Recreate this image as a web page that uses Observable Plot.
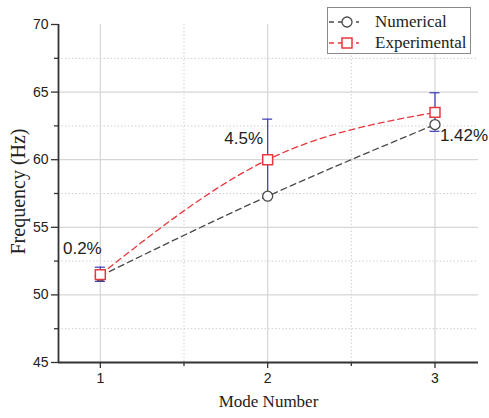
<!DOCTYPE html>
<html>
<head>
<meta charset="utf-8">
<script src="https://cdn.jsdelivr.net/npm/d3@7"></script>
<script src="https://cdn.jsdelivr.net/npm/@observablehq/plot@0.6"></script>
<style>
  html, body { margin: 0; padding: 0; background: #fff; }
  #wrap { position: relative; width: 489px; height: 418px; }
  #legend { position: absolute; left: 327px; top: 7px; width: 144px; height: 47px;
    border: 1px solid #8a8a8a; background: #fff; box-sizing: border-box;
    font-family: "Liberation Serif", "Times New Roman", serif; font-size: 17px; color: #222; }
  .row { position: absolute; left: 0; height: 20px; display: flex; align-items: center; }
  .row svg { margin-left: 1px; }
  .row span { margin-left: 16px; }
</style>
</head>
<body>
<div id="wrap"></div>
<script>
const modes = [1, 2, 3];
const numerical = [51.4, 57.3, 62.6];
const experimental = [51.5, 60.0, 63.5];
const errLow = [51.0, 57.2, 62.1];
const errHigh = [52.05, 63.0, 64.95];
const diffLabels = ["0.2%", "4.5%", "1.42%"];
const yMajor = [45, 50, 55, 60, 65, 70];
const yMinor = [47.5, 52.5, 57.5, 62.5, 67.5];
const xMajor = [1, 2, 3];
const xMinor = [1.5, 2.5];

const numColor = "#4a4a4a";
const expColor = "#e8383d";
const errColor = "#3c3cb8";

const num = modes.map((m, i) => ({mode: m, f: numerical[i]}));
const exp = modes.map((m, i) => ({mode: m, f: experimental[i], lo: errLow[i], hi: errHigh[i], label: diffLabels[i]}));
const labelOffsets = [{dx: -18, dy: -26}, {dx: -24, dy: -21}, {dx: 29, dy: 23}];

const sans = "'Liberation Sans', Arial, sans-serif";
const serif = "'Liberation Serif', 'Times New Roman', serif";

const chart = Plot.plot({
  width: 489,
  height: 418,
  marginLeft: 58,
  marginRight: 11,
  marginTop: 24,
  marginBottom: 56,
  style: {fontFamily: sans, fontSize: "14px", color: "#222", background: "#fff"},
  x: {domain: [0.75, 3.26], axis: null},
  y: {domain: [45, 70], axis: null},
  marks: [
    // grid
    Plot.ruleY(yMinor, {stroke: "#cfcfcf", strokeDasharray: "1.5,2", strokeWidth: 1}),
    Plot.ruleX(xMinor, {stroke: "#cfcfcf", strokeDasharray: "1.5,2", strokeWidth: 1}),
    Plot.ruleY(yMajor.filter(v => v > 45 && v < 70), {stroke: "#d6d6d6", strokeWidth: 1.2}),
    Plot.ruleX(xMajor, {stroke: "#d6d6d6", strokeWidth: 1.2}),
    // axes
    Plot.axisY(yMajor, {tickSize: 7, tickPadding: 3, fontSize: 14, stroke: "#333", strokeWidth: 1.3, label: null}),
    Plot.axisY(yMinor, {tickSize: 4, tickFormat: () => "", stroke: "#333", strokeWidth: 1.3, label: null}),
    Plot.axisX(xMajor, {tickSize: 6, tickPadding: 5, fontSize: 14, tickFormat: "d", stroke: "#333", strokeWidth: 1.3, label: null}),
    Plot.axisX(xMinor, {tickSize: 4, tickFormat: () => "", stroke: "#333", strokeWidth: 1.3, label: null}),
    Plot.ruleX([0.75], {stroke: "#333", strokeWidth: 1.8}),
    Plot.ruleY([45], {stroke: "#333", strokeWidth: 1.8}),
    // error bars
    Plot.ruleX(exp, {x: "mode", y1: "lo", y2: "hi", stroke: errColor, strokeWidth: 1.2}),
    Plot.ruleY(exp, {y: "lo", x1: d => d.mode - 0.03, x2: d => d.mode + 0.03, stroke: errColor, strokeWidth: 1.2}),
    Plot.ruleY(exp, {y: "hi", x1: d => d.mode - 0.03, x2: d => d.mode + 0.03, stroke: errColor, strokeWidth: 1.2}),
    // lines
    Plot.line(num, {x: "mode", y: "f", curve: "natural", stroke: numColor, strokeWidth: 1.3, strokeDasharray: "6,4"}),
    Plot.line(exp, {x: "mode", y: "f", curve: "natural", stroke: expColor, strokeWidth: 1.3, strokeDasharray: "6,4"}),
    // markers
    Plot.dot(num, {x: "mode", y: "f", r: 5, fill: "white", stroke: numColor, strokeWidth: 1.3}),
    Plot.dot(exp, {x: "mode", y: "f", symbol: "square", r: 5.6, fill: "white", stroke: expColor, strokeWidth: 1.5}),
    // annotations
    ...exp.map((d, i) => Plot.text([d], {x: "mode", y: "f", text: "label", dx: labelOffsets[i].dx, dy: labelOffsets[i].dy, fontSize: 17, fill: "#222", fontFamily: sans})),
    // axis titles
    Plot.text(["Mode Number"], {frameAnchor: "bottom", dy: 44, fontSize: 17, fontFamily: serif, fill: "#222"}),
    Plot.text(["Frequency (Hz)"], {frameAnchor: "left", textAnchor: "middle", dx: -40, dy: -2, rotate: -90, fontSize: 20, fontFamily: serif, fill: "#222"})
  ]
});

const wrap = document.getElementById("wrap");
wrap.appendChild(chart);

const legend = document.createElement("div");
legend.id = "legend";
const items = [
  {label: "Numerical", color: numColor, shape: "circle"},
  {label: "Experimental", color: expColor, shape: "square"}
];
items.forEach((it, i) => {
  const row = document.createElement("div");
  row.className = "row";
  row.style.top = (4 + i * 21) + "px";
  const marker = it.shape === "circle"
    ? `<circle cx="18" cy="10" r="5" fill="white" stroke="${it.color}" stroke-width="1.3"/>`
    : `<rect x="13" y="5" width="10" height="10" fill="white" stroke="${it.color}" stroke-width="1.5"/>`;
  row.innerHTML = `<svg width="30" height="20"><line x1="0" y1="10" x2="30" y2="10" stroke="${it.color}" stroke-width="1.3" stroke-dasharray="5,4"/>${marker}</svg><span>${it.label}</span>`;
  legend.appendChild(row);
});
wrap.appendChild(legend);
</script>
</body>
</html>
